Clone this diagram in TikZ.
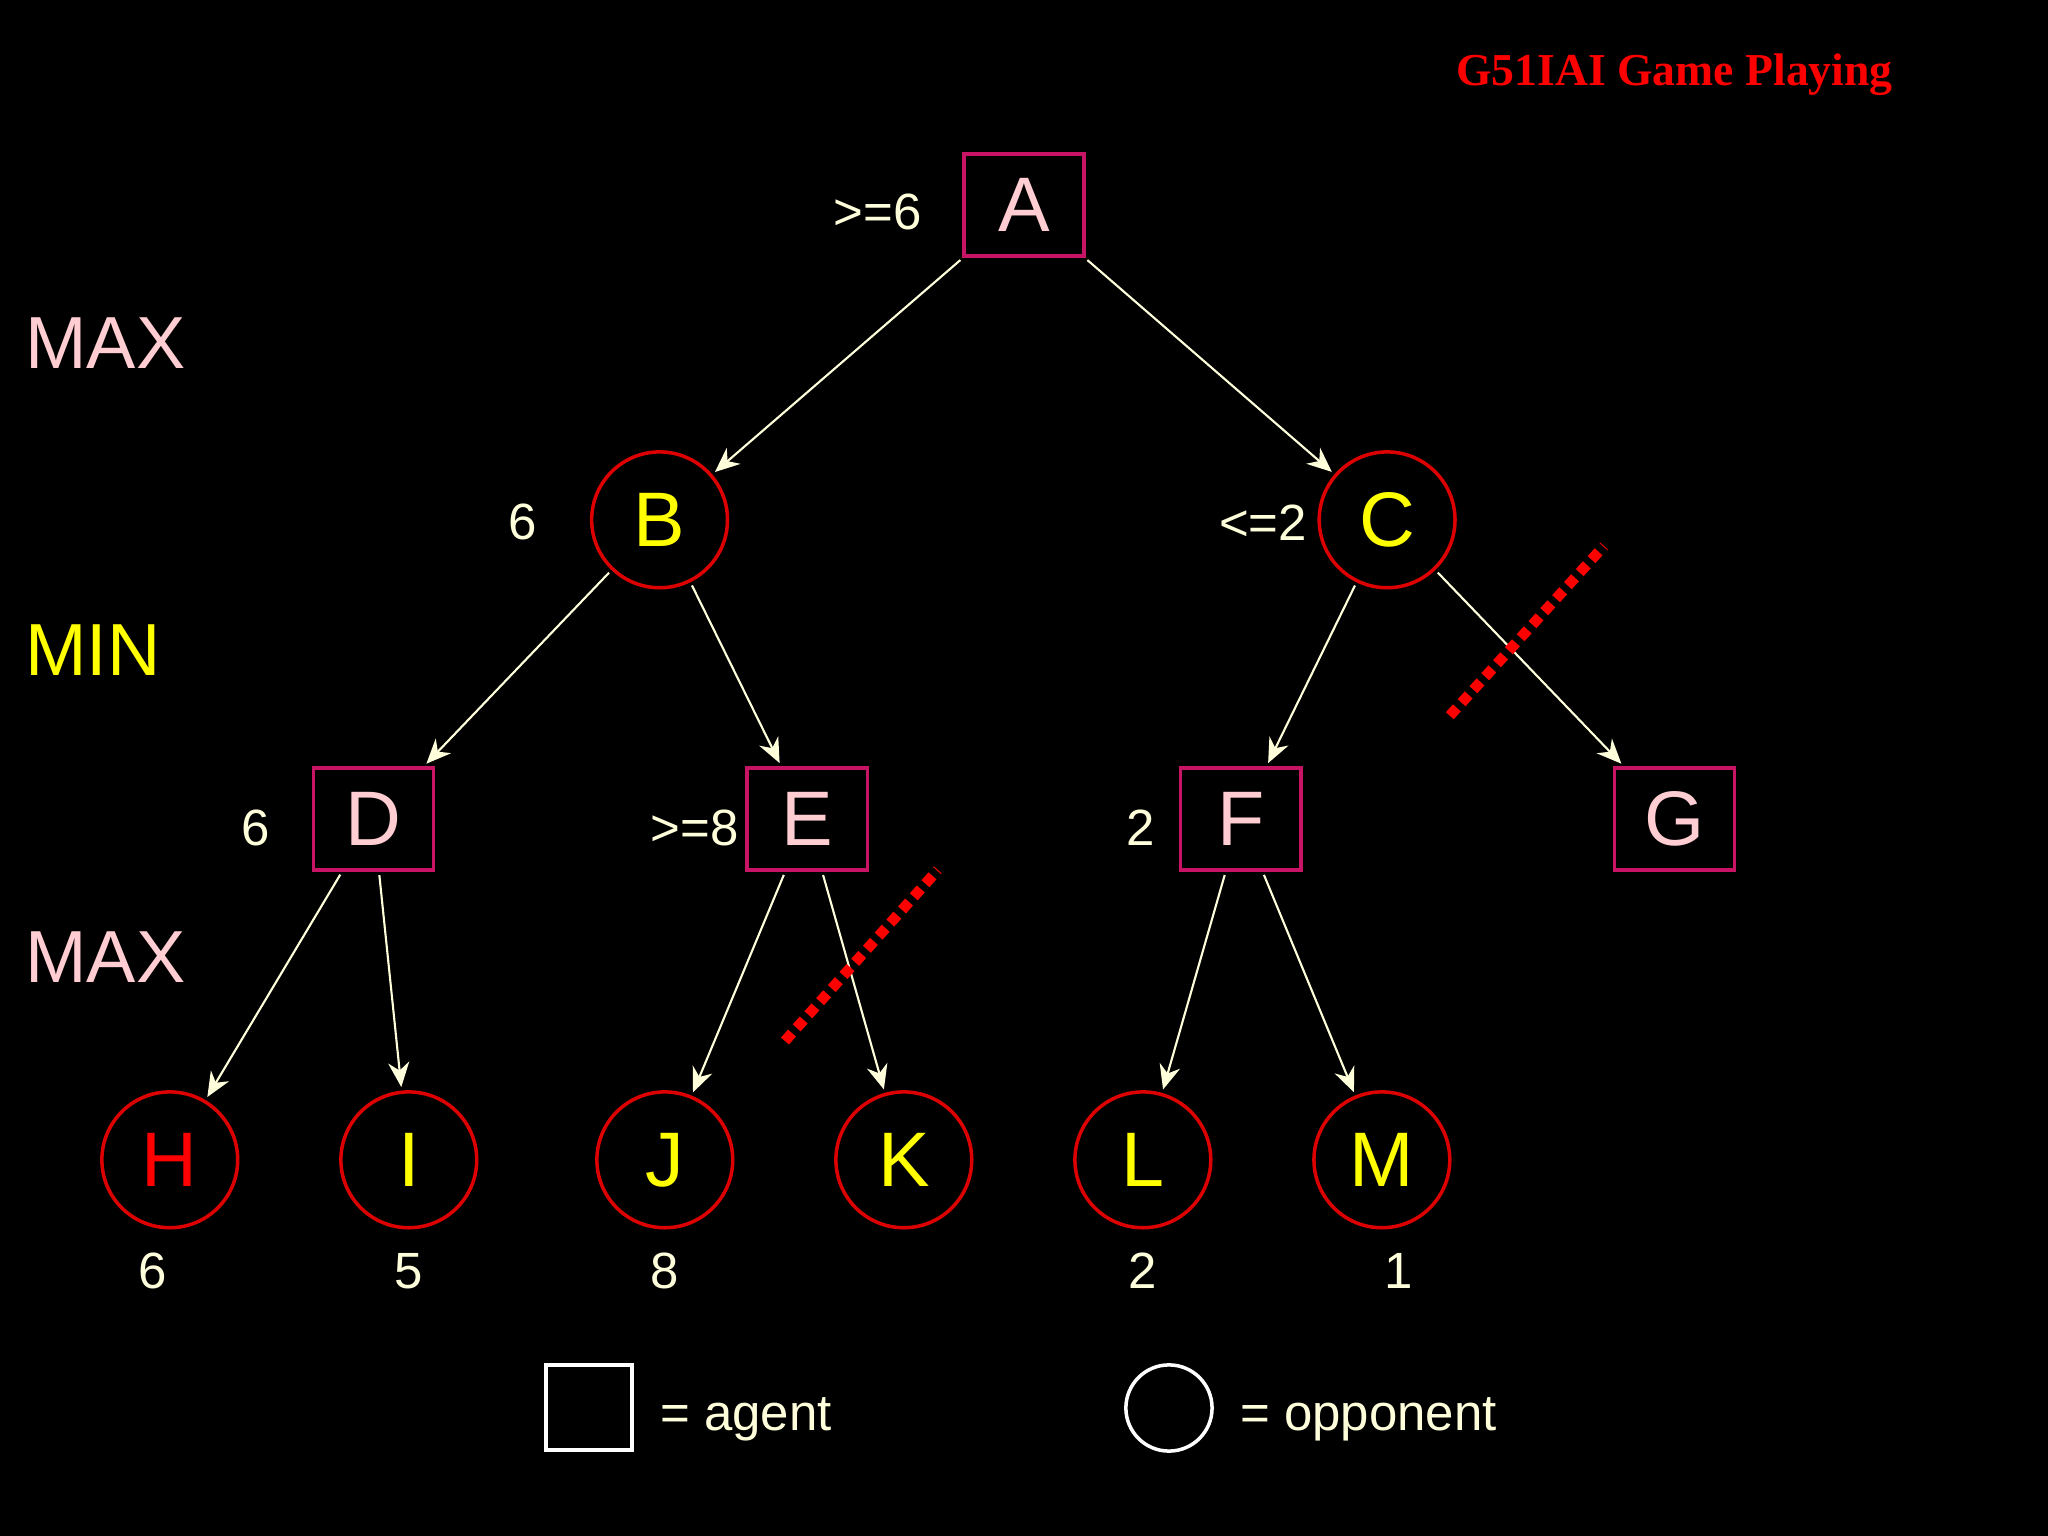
\documentclass[tikz,border=0pt]{standalone}
\usepackage{fontspec}
\setmainfont{Liberation Sans}
\newfontfamily\titlefont{Liberation Serif}
\usetikzlibrary{arrows.meta}
\definecolor{pinkt}{RGB}{255,205,210}
\definecolor{yel}{RGB}{255,255,0}
\definecolor{cream}{RGB}{255,255,220}
\definecolor{boxc}{RGB}{200,20,100}
\definecolor{circc}{RGB}{220,0,0}
\begin{document}
\begin{tikzpicture}[x=0.013061cm,y=-0.013061cm,
  agent/.style={draw=boxc,line width=1pt,minimum width=92*0.013061cm,minimum height=78*0.013061cm,inner sep=0pt,font=\fontsize{22}{24}\selectfont,text=pinkt},
  opp/.style={draw=circc,line width=1pt,circle,minimum size=104*0.013061cm,inner sep=0pt,font=\fontsize{22}{24}\selectfont,text=yel},
  val/.style={text=cream,font=\fontsize{14.5}{16}\selectfont},
  lvl/.style={font=\fontsize{21}{24}\selectfont,anchor=west},
  edge/.style={draw=cream,line width=0.6pt,-{Stealth[length=7pt,width=6pt]},shorten <=1pt,shorten >=1pt},
  cut/.style={draw=red,line width=3pt,dotted}]
\fill[black] (0,0) rectangle (1568,1176);
\node[font=\titlefont\bfseries\fontsize{13}{15}\selectfont,text=red] (title) at (1282,57) {G51IAI Game Playing};
\node[agent] (A) at (784,157) {A};
\node[opp] (B) at (505,398) {B};
\node[opp] (C) at (1062,398) {C};
\node[agent] (D) at (286,627) {D};
\node[agent] (E) at (618,627) {E};
\node[agent] (F) at (950,627) {F};
\node[agent] (G) at (1282,627) {G};
\node[opp,text=red] (H) at (130,888) {H};
\node[opp] (I) at (313,888) {I};
\node[opp] (J) at (509,888) {J};
\node[opp] (K) at (692,888) {K};
\node[opp] (L) at (875,888) {L};
\node[opp] (M) at (1058,888) {M};
\foreach \a/\b in {A/B,A/C,B/D,B/E,C/F,C/G,D/H,D/I,E/J,E/K,F/L,F/M}
  \draw[edge] (\a) -- (\b);
\node[val] (vH) at (117,973) {6};
\node[val] (vI) at (313,973) {5};
\node[val] (vJ) at (509,973) {8};
\node[val] (vL) at (875,973) {2};
\node[val] (vM) at (1071,973) {1};
\node[val] (lA) at (672,162) {>=6};
\node[val] (lB) at (400,400) {6};
\node[val] (lC) at (967,400) {<=2};
\node[val] (lD) at (196,634) {6};
\node[val] (lE) at (532,634) {>=8};
\node[val] (lF) at (873,634) {2};
\node[lvl,text=pinkt] (m1) at (10,263) {MAX};
\node[lvl,text=yel] (m2) at (10,498) {MIN};
\node[lvl,text=pinkt] (m3) at (10,733) {MAX};
\draw[cut] (1110,548) -- (1228,418);
\draw[cut] (601,797) -- (718,666);
\draw[white,line width=1pt] (418,1045) rectangle (484,1110);
\node[val,anchor=west] (ag) at (496,1087) {= agent};
\draw[white,line width=1pt] (895,1078) circle (33);
\node[val,anchor=west] (op) at (940,1087) {= opponent};
\end{tikzpicture}
\end{document}
